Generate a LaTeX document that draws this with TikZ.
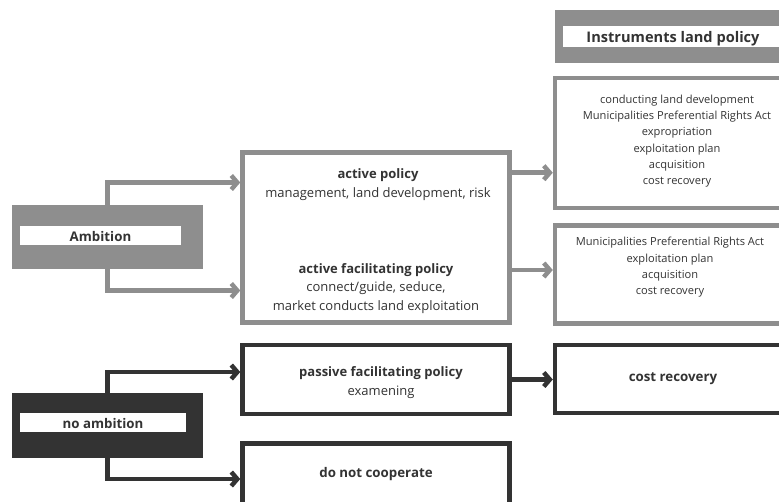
\documentclass[tikz,border=0pt]{standalone}
\usepackage{fontspec}
\setmainfont{Open Sans}
\usetikzlibrary{arrows.meta}
\definecolor{midgray}{HTML}{8E8E8E}
\definecolor{darkbox}{HTML}{333333}
\definecolor{ink}{HTML}{333333}

\begin{document}
\begin{tikzpicture}[x=1pt,y=-1pt,
  every node/.style={inner sep=0pt, outer sep=0pt, text=ink, align=center},
  framebox/.style={draw=#1, line width=4.5pt, fill=white, rectangle, outer sep=2.25pt},
  fillbox/.style={fill=#1, rectangle},
  bar/.style={fill=white, rectangle},
  lbl/.style={font=\fontsize{13.3}{15}\selectfont\bfseries},
  midtxt/.style={font=\fontsize{13}{18.7}\selectfont},
  smalltxt/.style={font=\fontsize{11.1}{16.3}\selectfont},
  link/.style={draw=#1, line width=4.5pt, -{Straight Barb[length=6pt,width=14pt]}},
]
\useasboundingbox (0,0) rectangle (779,501);
\clip (0,0) rectangle (779,501);

% ambition side
\node[fillbox=midgray, minimum width=191pt, minimum height=64.5pt] (amb) at (107.5,236.75) {};
\node[bar, minimum width=161pt, minimum height=19pt] (ambbar) at (100.5,235.5) {};
\node[lbl] (ambtxt) at (100.5,236.5) {Ambition};

\node[fillbox=darkbox, minimum width=191pt, minimum height=65pt] (noamb) at (107.5,425.5) {};
\node[bar, minimum width=166pt, minimum height=19pt] (noambbar) at (103,422.5) {};
\node[lbl] (noambtxt) at (103,423.5) {no ambition};

% policy boxes
\node[framebox=midgray, minimum width=267pt, minimum height=170pt] (active) at (376,237.5) {};
\node[midtxt] (activetxt) at (378,184.5) {\textbf{active policy}\\ management, land development, risk};
\node[midtxt] (facilitxt) at (376,288.5) {\textbf{active facilitating policy}\\ connect/guide, seduce,\\ market conducts land exploitation};

\node[framebox=darkbox, minimum width=267pt, minimum height=69pt] (passive) at (376,379.5) {};
\node[midtxt] (passivetxt) at (381,382.5) {\textbf{passive facilitating policy}\\ examening};

\node[framebox=darkbox, minimum width=267pt, minimum height=86.5pt] (donot) at (376,486.75) {};
\node[lbl] (donottxt) at (376,474) {do not cooperate};

% instruments column
\node[fillbox=midgray, minimum width=250pt, minimum height=53pt] (head) at (680,36.5) {};
\node[bar, minimum width=242pt, minimum height=21pt] (headbar) at (684,36.5) {};
\node[font=\fontsize{14.6}{16}\selectfont\bfseries] (headtxt) at (673,38.5) {Instruments land policy};

\node[framebox=midgray, minimum width=250pt, minimum height=130pt] (inst1) at (680,143) {};
\node[smalltxt] (inst1txt) at (677,141) {conducting land development\\ Municipalities Preferential Rights Act\\ expropriation\\ exploitation plan\\ acquisition\\ cost recovery};

\node[framebox=midgray, minimum width=250pt, minimum height=98pt] (inst2) at (680,274.5) {};
\node[smalltxt] (inst2txt) at (670,267.5) {Municipalities Preferential Rights Act\\ exploitation plan\\ acquisition\\ cost recovery};

\node[framebox=darkbox, minimum width=250pt, minimum height=68pt] (cost) at (680,379) {};
\node[lbl] (costtxt) at (673,379) {cost recovery};

% connectors
\draw[link=midgray] (amb.north) |- ([yshift=55pt]active.west);
\draw[link=midgray] (amb.south) |- ([yshift=-53pt]active.west);
\draw[link=midgray] ([yshift=64.8pt]active.east) -- ([yshift=64.8pt]active.east -| inst1.west);
\draw[link=midgray] ([yshift=-32.5pt]active.east) -- ([yshift=-32.5pt]active.east -| inst2.west);

\draw[link=darkbox] (noamb.north) |- ([yshift=7.5pt]passive.west);
\draw[link=darkbox] (noamb.south) |- ([yshift=7.75pt]donot.west);
\draw[link=darkbox] (passive.east) -- (passive.east -| cost.west);
\end{tikzpicture}
\end{document}
